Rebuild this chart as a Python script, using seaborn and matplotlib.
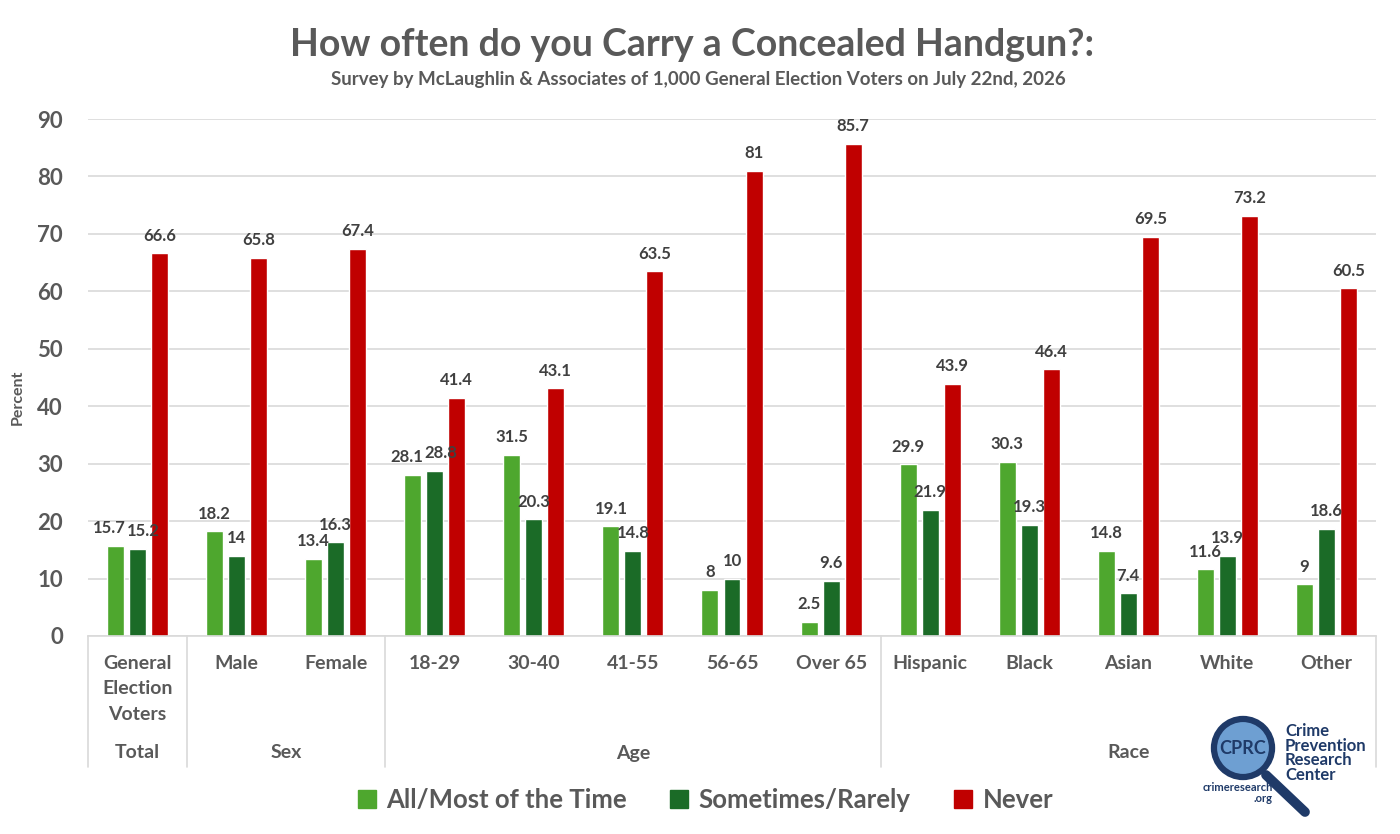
import numpy as np
import pandas as pd
import matplotlib
matplotlib.use("Agg")
import matplotlib.pyplot as plt
import matplotlib.patches as mpatches
import seaborn as sns

# data
categories = ["General\nElection\nVoters", "Male", "Female", "18-29", "30-40", "41-55",
              "56-65", "Over 65", "Hispanic", "Black", "Asian", "White", "Other"]
series = ["All/Most of the Time", "Sometimes/Rarely", "Never"]
all_most = [15.7, 18.2, 13.4, 28.1, 31.5, 19.1, 8, 2.5, 29.9, 30.3, 14.8, 11.6, 9]
sometimes = [15.2, 14, 16.3, 28.8, 20.3, 14.8, 10, 9.6, 21.9, 19.3, 7.4, 13.9, 18.6]
never = [66.6, 65.8, 67.4, 41.4, 43.1, 63.5, 81, 85.7, 43.9, 46.4, 69.5, 73.2, 60.5]
groups = ["Total", "Sex", "Age", "Race"]
group_sizes = [1, 2, 5, 5]

colors = ["#4EA72E", "#1B6B27", "#C00000"]
txt = "#595959"

df = pd.DataFrame({
    "cat": categories * 3,
    "series": np.repeat(series, len(categories)),
    "value": all_most + sometimes + never,
})

sns.set_style("white")
plt.rcParams["font.family"] = ["Lato", "DejaVu Sans"]
plt.rcParams["font.weight"] = "bold"

fig = plt.figure(figsize=(14, 8.34), dpi=100)
ax = fig.add_axes([88 / 1400, 1 - 636 / 834, (1376 - 88) / 1400, 517 / 834])

sns.barplot(data=df, x="cat", y="value", hue="series", order=categories,
            hue_order=series, palette=colors, saturation=1, width=0.667,
            gap=0.23, legend=False, ax=ax)

labels = []
for c in ax.containers:
    labels.append(ax.bar_label(c, fmt="%g", padding=7, fontsize=12,
                               fontweight="bold", color="#404040"))
# nudge labels of neighbouring bars with almost equal height apart
for i in range(len(categories)):
    if abs(all_most[i] - sometimes[i]) < 1:
        labels[0][i].xyann = (-4.5, 7)
        labels[1][i].xyann = (4.5, 7)

ax.set_ylim(0, 90)
ax.set_xlim(-0.5, len(categories) - 0.5)
ax.set_yticks(range(0, 91, 10))
ax.yaxis.grid(True, color="#D9D9D9", linewidth=1.2)
ax.set_axisbelow(True)
for s in ["left", "right", "top"]:
    ax.spines[s].set_visible(False)
ax.spines["bottom"].set_color("#D9D9D9")
ax.spines["bottom"].set_linewidth(1.2)
ax.tick_params(axis="y", length=0, pad=18, labelsize=16, labelcolor=txt)
ax.tick_params(axis="x", length=0, pad=13.5, labelsize=14, labelcolor=txt)
for t in ax.get_xticklabels():
    t.set_linespacing(1.6)
    t.set_fontweight("bold")
for t in ax.get_yticklabels():
    t.set_fontweight("bold")
ax.set_xlabel("")
ax.set_ylabel("")

# group labels and separators
trans = ax.get_xaxis_transform()
start = -0.5
bottom = (636 - 767) / 517
ax.plot([start, start], [0, bottom], transform=trans, color="#D9D9D9", lw=1.2, clip_on=False)
for g, n in zip(groups, group_sizes):
    end = start + n
    ax.plot([end, end], [0, bottom], transform=trans, color="#D9D9D9", lw=1.2, clip_on=False)
    ax.text((start + end) / 2, (636 - 753) / 517, g, transform=trans, ha="center",
            va="center", fontsize=14, fontweight="bold", color=txt)
    start = end

fig.text(18 / 1400, 1 - 397 / 834, "Percent", rotation=90, ha="center", va="center",
         fontsize=11.5, fontweight="bold", color=txt)

fig.text(0.494, 1 - 45 / 834, "How often do you Carry a Concealed Handgun?:", ha="center",
         va="center", fontsize=27, fontweight="bold", color=txt)
fig.text(0.499, 1 - 80 / 834,
         "Survey by McLaughlin & Associates of 1,000 General Election Voters on July 22nd, 2026",
         ha="center", va="center", fontsize=13.5, fontweight="bold", color=txt)

handles = [mpatches.Patch(color=c, label=s) for c, s in zip(colors, series)]
leg = fig.legend(handles=handles, loc="center", bbox_to_anchor=(0.504, 1 - 800 / 834),
                 ncol=3, frameon=False, handlelength=0.7, handleheight=0.7,
                 handletextpad=0.4, columnspacing=1.7,
                 prop={"size": 18.5, "weight": "bold"})
for t in leg.get_texts():
    t.set_color(txt)

# CPRC logo
navy = "#1F3A68"
fig.add_artist(plt.Line2D([1266 / 1400, 1305 / 1400], [1 - 775 / 834, 1 - 812 / 834],
                          color=navy, lw=7, solid_capstyle="round"))
lax = fig.add_axes([1210 / 1400, 1 - 781 / 834, 66 / 1400, 66 / 834])
lax.set_xlim(-1, 1)
lax.set_ylim(-1, 1)
lax.set_aspect("equal")
lax.axis("off")
lax.add_patch(mpatches.Circle((0, 0), 0.88, facecolor="#6E9FD2", edgecolor=navy, lw=4.5))
lax.text(0, -0.02, "CPRC", ha="center", va="center", fontsize=13, fontweight="bold",
         color=navy, family=["Liberation Sans Narrow", "Lato"])
fig.text(1285 / 1400, 1 - 753 / 834, "Crime\nPrevention\nResearch\nCenter", ha="left",
         va="center", fontsize=12, fontweight="bold", color=navy, linespacing=0.92)
fig.text(1273 / 1400, 1 - 793 / 834, "crimeresearch\n.org", ha="right", va="center",
         fontsize=8, fontweight="bold", color=navy, linespacing=1.0, multialignment="right")

fig.savefig("out.png", dpi=100, facecolor="white")
